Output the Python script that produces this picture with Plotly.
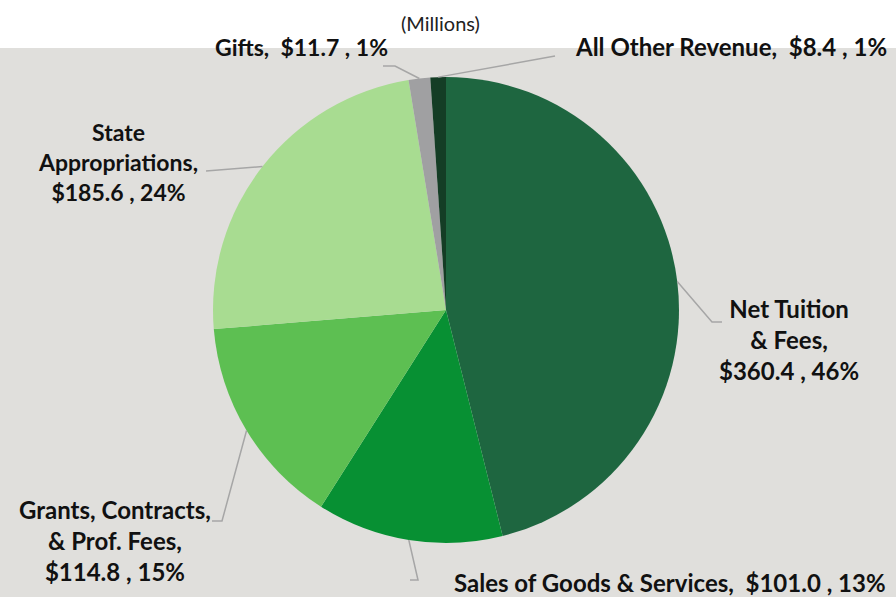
import math
import plotly.graph_objects as go

labels = ["Net Tuition & Fees", "Sales of Goods & Services", "Grants, Contracts, & Prof. Fees",
          "State Appropriations", "Gifts", "All Other Revenue"]
values = [360.4, 101.0, 114.8, 185.6, 11.7, 8.4]
percents = ["46%", "13%", "15%", "24%", "1%", "1%"]
colors = ["#1e6640", "#079033", "#5dbf52", "#a8dc91", "#a0a0a2", "#143d25"]

W, H = 896, 597
CX, CY, R = 446, 310, 233

def px(x):
    return x / W

def py(y):
    return 1 - y / H

fig = go.Figure()
fig.add_trace(go.Pie(
    labels=labels, values=values, sort=False, direction="clockwise", rotation=0,
    marker=dict(colors=colors, line=dict(width=0)),
    textinfo="none", hoverinfo="label+value+percent", showlegend=False,
    domain=dict(x=[px(CX - R), px(CX + R)], y=[py(CY + R), py(CY - R)]),
))

# background band
shapes = [dict(type="rect", xref="paper", yref="paper", x0=0, x1=1, y0=0, y1=py(48),
               fillcolor="#e0dfdc", line=dict(width=0), layer="below")]

label_texts = [
    "<b>Net Tuition<br>& Fees,<br>$%.1f , %s</b>" % (values[0], percents[0]),
    "<b>Sales of Goods & Services,  $%.1f , %s</b>" % (values[1], percents[1]),
    "<b>Grants, Contracts,<br>& Prof. Fees,<br>$%.1f , %s</b>" % (values[2], percents[2]),
    "<b>State<br>Appropriations,<br>$%.1f , %s</b>" % (values[3], percents[3]),
    "<b>Gifts,  $%.1f , %s</b>" % (values[4], percents[4]),
    "<b>All Other Revenue,  $%.1f , %s</b>" % (values[5], percents[5]),
]
label_pos = [(789, 340), (670, 582), (115, 540), (118, 162), (301, 47), (731, 47)]
elbows = [[(712, 322), (722, 322)], [(418, 580), (410, 580)], [(222, 521), (212, 521)],
          [(206, 171)], [(395, 66), (383, 66)], [(555, 56)]]
sizes = [24, 24, 24, 23, 23, 24]

total = sum(values)
cum = 0.0
annotations = []
for i, v in enumerate(values):
    mid = (cum + v / 2) / total * 2 * math.pi
    cum += v
    ex = CX + R * math.sin(mid)
    ey = CY - R * math.cos(mid)
    pts = [(ex, ey)] + elbows[i]
    path = "M %f %f " % (px(pts[0][0]), py(pts[0][1])) + " ".join(
        "L %f %f" % (px(a), py(b)) for a, b in pts[1:])
    shapes.append(dict(type="path", xref="paper", yref="paper", path=path,
                       line=dict(color="#a6a6a6", width=1.5)))
    lx, ly = label_pos[i]
    annotations.append(dict(x=px(lx), y=py(ly), xref="paper", yref="paper",
                            text=label_texts[i], showarrow=False, align="center",
                            xanchor="center", yanchor="middle",
                            font=dict(family="Lato", size=sizes[i], color="#111111")))

annotations.append(dict(x=px(440), y=py(23), xref="paper", yref="paper", text="(Millions)",
                        showarrow=False, xanchor="center", yanchor="middle",
                        font=dict(family="Lato", size=20, color="#222222")))

fig.update_layout(
    width=W, height=H, margin=dict(l=0, r=0, t=0, b=0),
    paper_bgcolor="white", plot_bgcolor="white",
    shapes=shapes, annotations=annotations,
)

fig.write_html("out.html", config={"displayModeBar": False},
               post_script="document.body.style.margin='0';")
